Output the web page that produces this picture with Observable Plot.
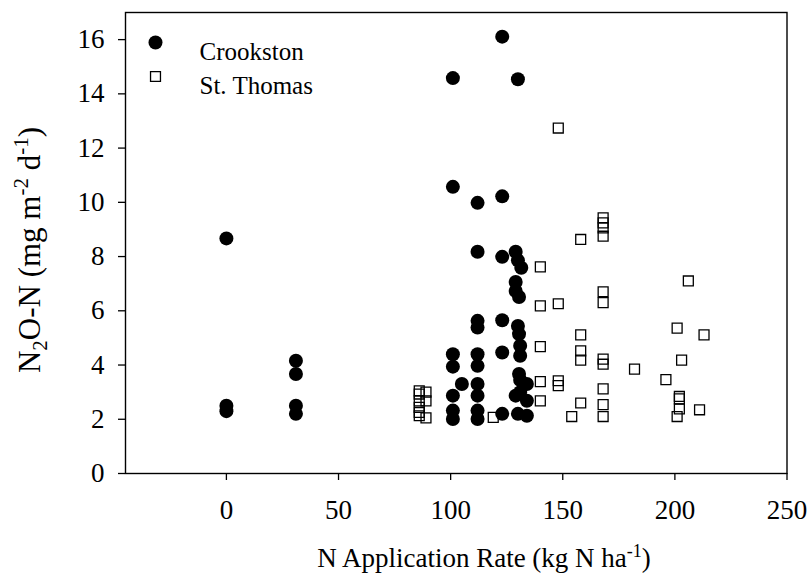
<!DOCTYPE html>
<html><head><meta charset="utf-8">
<script src="https://cdn.jsdelivr.net/npm/d3@7"></script>
<script src="https://cdn.jsdelivr.net/npm/@observablehq/plot@0.6"></script>
<style>
body{margin:0;background:#fff}
svg, svg text, svg tspan{font-family:"Liberation Serif","Times New Roman",serif !important}
</style>
</head><body><div id="chart"></div>
<script>
const seriesNames = ["Crookston", "St. Thomas"];

const crookstonX = [0, 0, 0,
  31, 31, 31, 31,
  101, 101, 101, 101, 101, 101, 101,
  105,
  112, 112, 112, 112, 112, 112, 112, 112, 112, 112,
  123, 123, 123, 123, 123, 123,
  130, 129, 130, 131.5, 129, 129, 130.5, 130, 130.5, 131, 131, 130.5, 131, 134, 129, 131, 134, 130, 134];
const crookstonY = [8.67, 2.5, 2.3,
  4.16, 3.67, 2.5, 2.2,
  14.58, 10.57, 4.4, 3.94, 2.87, 2.32, 2.01,
  3.3,
  9.98, 8.18, 5.63, 5.38, 4.4, 3.97, 3.3, 2.87, 2.32, 2.01,
  16.11, 10.22, 7.99, 5.65, 4.46, 2.2,
  14.54, 8.18, 7.86, 7.59, 7.06, 6.73, 6.51, 5.44, 5.14, 4.71, 4.34, 3.67, 3.45, 3.3, 2.87, 3.0, 2.68, 2.2, 2.13];

const stThomasX = [86, 86, 86, 86, 86, 86, 89, 89, 89,
  119,
  140, 140, 140, 140, 140,
  148, 148, 148, 148,
  154,
  158, 158, 158, 158, 158,
  168, 168, 168, 168, 168, 168, 168, 168, 168, 168, 168,
  182, 196,
  201, 201, 203, 202, 202, 202, 206, 211, 213];
const stThomasY = [3.05, 2.93, 2.68, 2.44, 2.25, 2.13, 3.0, 2.68, 2.05,
  2.07,
  7.62, 6.18, 4.68, 3.39, 2.68,
  12.74, 6.26, 3.42, 3.24,
  2.1,
  8.63, 5.11, 4.52, 4.18, 2.6,
  9.43, 9.24, 9.06, 8.75, 6.7, 6.3, 4.22, 4.03, 3.12, 2.54, 2.1,
  3.85, 3.46,
  5.36, 2.1, 4.18, 2.84, 2.75, 2.38, 7.1, 2.35, 5.11];

const xTicks = [0, 50, 100, 150, 200, 250];
const yTicks = [0, 2, 4, 6, 8, 10, 12, 14, 16];

const crookston = crookstonX.map((x, i) => ({x, y: crookstonY[i]}));
const stThomas = stThomasX.map((x, i) => ({x, y: stThomasY[i]}));

const FONT = "Liberation Serif, Times New Roman, serif";

const plot = Plot.plot({
  width: 810, height: 581,
  marginLeft: 125, marginRight: 23.5, marginTop: 12, marginBottom: 108,
  style: {fontFamily: FONT, fontSize: "27px", color: "black", background: "white"},
  x: {domain: [-45, 250]},
  y: {domain: [0, 17]},
  marks: [
    Plot.axisX({ticks: xTicks, tickSize: 7, tickPadding: 19, label: null, fontSize: 27, strokeWidth: 1.3}),
    Plot.axisY({ticks: yTicks, tickSize: 7, tickPadding: 14, label: null, fontSize: 27, strokeWidth: 1.3}),
    Plot.dot(stThomas, {x: "x", y: "y", symbol: "square", r: 5.6, fill: "none", stroke: "black", strokeWidth: 1.3}),
    Plot.dot(crookston, {x: "x", y: "y", r: 7, fill: "black"}),
    Plot.frame({stroke: "black", strokeWidth: 1.4}),
    Plot.dot([seriesNames[0]], {frameAnchor: "top-left", dx: 30, dy: 30, r: 7, fill: "black"}),
    Plot.dot([seriesNames[1]], {frameAnchor: "top-left", dx: 30, dy: 64, r: 5.6, symbol: "square", fill: "none", stroke: "black", strokeWidth: 1.3}),
    Plot.text([seriesNames[0]], {text: d => d, frameAnchor: "top-left", dx: 74, dy: 30, textAnchor: "start", fontSize: 25, fill: "black"}),
    Plot.text([seriesNames[1]], {text: d => d, frameAnchor: "top-left", dx: 74, dy: 64, textAnchor: "start", fontSize: 25, fill: "black"})
  ]
});

const svg = d3.select(plot);
// x-axis title
const xt = svg.append("text")
  .attr("x", 484).attr("y", 567)
  .attr("text-anchor", "middle")
  .attr("font-size", 27).attr("fill", "black");
xt.append("tspan").text("N Application Rate (kg N ha");
xt.append("tspan").attr("dy", -10).attr("font-size", 18).text("-1");
xt.append("tspan").attr("dy", 10).text(")");

// y-axis title
const yt = svg.append("text")
  .attr("transform", "translate(40,250) rotate(-90)")
  .attr("text-anchor", "middle")
  .attr("font-size", 31).attr("fill", "black");
yt.append("tspan").text("N");
yt.append("tspan").attr("dy", 7).attr("font-size", 21).text("2");
yt.append("tspan").attr("dy", -7).text("O-N (mg m");
yt.append("tspan").attr("dy", -12).attr("font-size", 21).text("-2");
yt.append("tspan").attr("dy", 12).text(" d");
yt.append("tspan").attr("dy", -12).attr("font-size", 21).text("-1");
yt.append("tspan").attr("dy", 12).text(")");

svg.selectAll("text").attr("font-family", FONT);

document.getElementById("chart").appendChild(plot);
</script>
</body></html>
